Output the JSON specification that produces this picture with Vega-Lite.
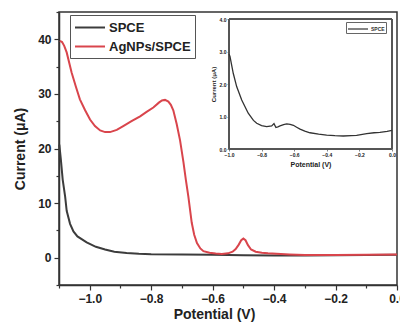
{
  "$schema": "https://vega.github.io/schema/vega-lite/v6.json",
  "width": 338,
  "height": 273,
  "autosize": {"type": "none"},
  "padding": {"left": 59, "top": 12, "right": 3, "bottom": 38},
  "config": {
    "font": "Liberation Sans",
    "view": {"stroke": "#333333", "strokeWidth": 1.5},
    "axis": {"grid": false, "domainColor": "#333333", "tickColor": "#333333", "labelColor": "#222222", "titleColor": "#222222"}
  },
  "datasets": {
    "main": [
      {"potential": -1.099, "current": 20.7, "electrode": "SPCE"},
      {"potential": -1.094, "current": 18.0, "electrode": "SPCE"},
      {"potential": -1.088, "current": 14.3, "electrode": "SPCE"},
      {"potential": -1.080, "current": 11.2, "electrode": "SPCE"},
      {"potential": -1.075, "current": 8.6, "electrode": "SPCE"},
      {"potential": -1.064, "current": 6.2, "electrode": "SPCE"},
      {"potential": -1.053, "current": 4.8, "electrode": "SPCE"},
      {"potential": -1.040, "current": 3.9, "electrode": "SPCE"},
      {"potential": -1.010, "current": 2.8, "electrode": "SPCE"},
      {"potential": -0.980, "current": 2.0, "electrode": "SPCE"},
      {"potential": -0.950, "current": 1.5, "electrode": "SPCE"},
      {"potential": -0.920, "current": 1.1, "electrode": "SPCE"},
      {"potential": -0.880, "current": 0.85, "electrode": "SPCE"},
      {"potential": -0.840, "current": 0.72, "electrode": "SPCE"},
      {"potential": -0.800, "current": 0.65, "electrode": "SPCE"},
      {"potential": -0.700, "current": 0.6, "electrode": "SPCE"},
      {"potential": -0.600, "current": 0.55, "electrode": "SPCE"},
      {"potential": -0.500, "current": 0.45, "electrode": "SPCE"},
      {"potential": -0.400, "current": 0.4, "electrode": "SPCE"},
      {"potential": -0.300, "current": 0.4, "electrode": "SPCE"},
      {"potential": -0.200, "current": 0.45, "electrode": "SPCE"},
      {"potential": -0.100, "current": 0.5, "electrode": "SPCE"},
      {"potential": 0.000, "current": 0.55, "electrode": "SPCE"},
      {"potential": -1.097, "current": 39.7, "electrode": "AgNPs/SPCE"},
      {"potential": -1.090, "current": 39.5, "electrode": "AgNPs/SPCE"},
      {"potential": -1.083, "current": 38.8, "electrode": "AgNPs/SPCE"},
      {"potential": -1.075, "current": 37.6, "electrode": "AgNPs/SPCE"},
      {"potential": -1.059, "current": 33.9, "electrode": "AgNPs/SPCE"},
      {"potential": -1.045, "current": 31.3, "electrode": "AgNPs/SPCE"},
      {"potential": -1.032, "current": 29.0, "electrode": "AgNPs/SPCE"},
      {"potential": -1.015, "current": 27.0, "electrode": "AgNPs/SPCE"},
      {"potential": -0.999, "current": 25.3, "electrode": "AgNPs/SPCE"},
      {"potential": -0.983, "current": 24.1, "electrode": "AgNPs/SPCE"},
      {"potential": -0.966, "current": 23.3, "electrode": "AgNPs/SPCE"},
      {"potential": -0.950, "current": 23.0, "electrode": "AgNPs/SPCE"},
      {"potential": -0.934, "current": 23.0, "electrode": "AgNPs/SPCE"},
      {"potential": -0.912, "current": 23.4, "electrode": "AgNPs/SPCE"},
      {"potential": -0.891, "current": 24.1, "electrode": "AgNPs/SPCE"},
      {"potential": -0.864, "current": 25.0, "electrode": "AgNPs/SPCE"},
      {"potential": -0.836, "current": 25.9, "electrode": "AgNPs/SPCE"},
      {"potential": -0.815, "current": 26.7, "electrode": "AgNPs/SPCE"},
      {"potential": -0.793, "current": 27.5, "electrode": "AgNPs/SPCE"},
      {"potential": -0.775, "current": 28.4, "electrode": "AgNPs/SPCE"},
      {"potential": -0.765, "current": 28.8, "electrode": "AgNPs/SPCE"},
      {"potential": -0.755, "current": 28.9, "electrode": "AgNPs/SPCE"},
      {"potential": -0.744, "current": 28.6, "electrode": "AgNPs/SPCE"},
      {"potential": -0.736, "current": 28.0, "electrode": "AgNPs/SPCE"},
      {"potential": -0.728, "current": 27.0, "electrode": "AgNPs/SPCE"},
      {"potential": -0.717, "current": 24.5, "electrode": "AgNPs/SPCE"},
      {"potential": -0.706, "current": 21.5, "electrode": "AgNPs/SPCE"},
      {"potential": -0.695, "current": 17.5, "electrode": "AgNPs/SPCE"},
      {"potential": -0.687, "current": 14.2, "electrode": "AgNPs/SPCE"},
      {"potential": -0.679, "current": 11.2, "electrode": "AgNPs/SPCE"},
      {"potential": -0.668, "current": 6.4, "electrode": "AgNPs/SPCE"},
      {"potential": -0.660, "current": 4.2, "electrode": "AgNPs/SPCE"},
      {"potential": -0.651, "current": 2.7, "electrode": "AgNPs/SPCE"},
      {"potential": -0.640, "current": 1.7, "electrode": "AgNPs/SPCE"},
      {"potential": -0.630, "current": 1.2, "electrode": "AgNPs/SPCE"},
      {"potential": -0.610, "current": 0.9, "electrode": "AgNPs/SPCE"},
      {"potential": -0.590, "current": 0.75, "electrode": "AgNPs/SPCE"},
      {"potential": -0.570, "current": 0.7, "electrode": "AgNPs/SPCE"},
      {"potential": -0.550, "current": 0.8, "electrode": "AgNPs/SPCE"},
      {"potential": -0.535, "current": 1.1, "electrode": "AgNPs/SPCE"},
      {"potential": -0.525, "current": 1.6, "electrode": "AgNPs/SPCE"},
      {"potential": -0.515, "current": 2.4, "electrode": "AgNPs/SPCE"},
      {"potential": -0.507, "current": 3.2, "electrode": "AgNPs/SPCE"},
      {"potential": -0.500, "current": 3.5, "electrode": "AgNPs/SPCE"},
      {"potential": -0.493, "current": 3.2, "electrode": "AgNPs/SPCE"},
      {"potential": -0.485, "current": 2.3, "electrode": "AgNPs/SPCE"},
      {"potential": -0.475, "current": 1.5, "electrode": "AgNPs/SPCE"},
      {"potential": -0.460, "current": 1.1, "electrode": "AgNPs/SPCE"},
      {"potential": -0.440, "current": 0.9, "electrode": "AgNPs/SPCE"},
      {"potential": -0.420, "current": 0.8, "electrode": "AgNPs/SPCE"},
      {"potential": -0.350, "current": 0.6, "electrode": "AgNPs/SPCE"},
      {"potential": -0.300, "current": 0.5, "electrode": "AgNPs/SPCE"},
      {"potential": -0.200, "current": 0.5, "electrode": "AgNPs/SPCE"},
      {"potential": -0.100, "current": 0.55, "electrode": "AgNPs/SPCE"},
      {"potential": 0.000, "current": 0.6, "electrode": "AgNPs/SPCE"}
    ],
    "inset": [
      {"potential": -1.000, "current": 2.92, "electrode": "SPCE"},
      {"potential": -0.994, "current": 2.85, "electrode": "SPCE"},
      {"potential": -0.974, "current": 2.33, "electrode": "SPCE"},
      {"potential": -0.953, "current": 1.92, "electrode": "SPCE"},
      {"potential": -0.922, "current": 1.51, "electrode": "SPCE"},
      {"potential": -0.882, "current": 1.10, "electrode": "SPCE"},
      {"potential": -0.850, "current": 0.88, "electrode": "SPCE"},
      {"potential": -0.830, "current": 0.79, "electrode": "SPCE"},
      {"potential": -0.800, "current": 0.72, "electrode": "SPCE"},
      {"potential": -0.769, "current": 0.69, "electrode": "SPCE"},
      {"potential": -0.738, "current": 0.71, "electrode": "SPCE"},
      {"potential": -0.724, "current": 0.78, "electrode": "SPCE"},
      {"potential": -0.712, "current": 0.66, "electrode": "SPCE"},
      {"potential": -0.700, "current": 0.68, "electrode": "SPCE"},
      {"potential": -0.687, "current": 0.71, "electrode": "SPCE"},
      {"potential": -0.665, "current": 0.75, "electrode": "SPCE"},
      {"potential": -0.646, "current": 0.77, "electrode": "SPCE"},
      {"potential": -0.625, "current": 0.76, "electrode": "SPCE"},
      {"potential": -0.605, "current": 0.73, "electrode": "SPCE"},
      {"potential": -0.585, "current": 0.67, "electrode": "SPCE"},
      {"potential": -0.564, "current": 0.61, "electrode": "SPCE"},
      {"potential": -0.535, "current": 0.55, "electrode": "SPCE"},
      {"potential": -0.503, "current": 0.50, "electrode": "SPCE"},
      {"potential": -0.450, "current": 0.46, "electrode": "SPCE"},
      {"potential": -0.401, "current": 0.43, "electrode": "SPCE"},
      {"potential": -0.350, "current": 0.41, "electrode": "SPCE"},
      {"potential": -0.299, "current": 0.40, "electrode": "SPCE"},
      {"potential": -0.250, "current": 0.41, "electrode": "SPCE"},
      {"potential": -0.217, "current": 0.42, "electrode": "SPCE"},
      {"potential": -0.155, "current": 0.47, "electrode": "SPCE"},
      {"potential": -0.110, "current": 0.50, "electrode": "SPCE"},
      {"potential": -0.074, "current": 0.51, "electrode": "SPCE"},
      {"potential": -0.030, "current": 0.54, "electrode": "SPCE"},
      {"potential": 0.000, "current": 0.57, "electrode": "SPCE"}
    ]
  },
  "layer": [
    {
      "data": {"name": "main"},
      "mark": {"type": "line", "strokeWidth": 2},
      "encoding": {
        "x": {
          "field": "potential", "type": "quantitative",
          "scale": {"domain": [-1.1, 0], "nice": false, "zero": false},
          "axis": {
            "title": "Potential (V)", "titleFontSize": 14, "titleFontWeight": "bold", "titlePadding": 3, "titleX": 155,
            "values": [-1.1, -1.0, -0.9, -0.8, -0.7, -0.6, -0.5, -0.4, -0.3, -0.2, -0.1, 0.0],
            "labelExpr": "round(datum.value*10) % 2 == 0 ? format(datum.value, '.1f') : ''",
            "labelFontSize": 12, "labelFontWeight": "bold", "labelPadding": 3,
            "tickSize": {"condition": {"test": "round(datum.value*10) % 2 == 0", "value": 5}, "value": 3},
            "domainWidth": 1.5, "tickWidth": 1.2, "labelFlush": false, "labelOverlap": false
          }
        },
        "y": {
          "field": "current", "type": "quantitative",
          "scale": {"domain": [-5, 45], "nice": false, "zero": false},
          "axis": {
            "title": "Current (\u03bcA)", "titleFontSize": 14, "titleFontWeight": "bold", "titlePadding": 10,
            "values": [-5, 0, 5, 10, 15, 20, 25, 30, 35, 40, 45],
            "labelExpr": "datum.value % 10 == 0 ? datum.label : ''",
            "labelFontSize": 12, "labelFontWeight": "bold", "labelPadding": 3,
            "tickSize": {"condition": {"test": "datum.value % 10 == 0", "value": 5}, "value": 3},
            "domainWidth": 1.5, "tickWidth": 1.2, "labelOverlap": false
          }
        },
        "color": {
          "field": "electrode", "type": "nominal",
          "scale": {"domain": ["SPCE", "AgNPs/SPCE"], "range": ["#3c3c3c", "#d9454c"]},
          "legend": {
            "title": null, "orient": "none", "legendX": 11, "legendY": 3,
            "symbolType": "M-1,0L3,0", "symbolSize": 225, "symbolStrokeWidth": 2,
            "labelFontSize": 13, "labelFontWeight": "bold", "labelColor": "#222222", "labelOffset": 18,
            "strokeColor": "#555555", "fillColor": "white", "padding": 4, "rowPadding": 3
          }
        }
      }
    },
    {
      "data": {"name": "inset"},
      "layer": [
        {
          "mark": {"type": "rect", "fillOpacity": 0, "stroke": "#555555", "strokeWidth": 0.8},
          "encoding": {
            "x": {"datum": -1.0, "type": "quantitative"},
            "x2": {"datum": 0.0},
            "y": {"datum": 0.0, "type": "quantitative"},
            "y2": {"datum": 4.0}
          }
        },
        {
          "mark": {"type": "line", "strokeWidth": 1.3},
          "encoding": {
            "x": {
              "field": "potential", "type": "quantitative",
              "scale": {"domain": [-1.0, 0], "nice": false, "zero": false, "range": [170, 333]},
              "axis": {
                "orient": "bottom", "offset": -136, "title": "Potential (V)", "titleFontSize": 7, "titleFontWeight": "bold", "titlePadding": 3,
                "values": [-1.0, -0.8, -0.6, -0.4, -0.2, 0.0], "format": ".1f",
                "labelFontSize": 5, "labelFontWeight": "bold", "labelPadding": 1, "tickSize": 2, "domainWidth": 0.8, "tickWidth": 0.6, "labelFlush": false, "labelOverlap": false
              }
            },
            "y": {
              "field": "current", "type": "quantitative",
              "scale": {"domain": [0, 4], "nice": false, "zero": false, "range": [137, 7]},
              "axis": {
                "orient": "left", "offset": -170, "title": "Current (\u03bcA)", "titleFontSize": 6, "titleFontWeight": "bold", "titlePadding": 3,
                "values": [0, 0.5, 1, 1.5, 2, 2.5, 3, 3.5, 4], "format": ".1f",
                "labelFontSize": 5, "labelFontWeight": "bold", "labelPadding": 1, "tickSize": 2, "domainWidth": 0.8, "tickWidth": 0.6, "labelOverlap": false
              }
            },
            "color": {
              "field": "electrode", "type": "nominal",
              "scale": {"domain": ["SPCE"], "range": ["#333333"]},
              "legend": {
                "title": null, "orient": "none", "legendX": 287, "legendY": 10,
                "symbolType": "M-1,0L3,0", "symbolSize": 100, "symbolStrokeWidth": 1.2,
                "labelFontSize": 5, "labelFontWeight": "bold", "labelColor": "#333333",
                "strokeColor": "#666666", "fillColor": "white", "padding": 1, "labelOffset": 12
              }
            }
          }
        }
      ]
    }
  ],
  "resolve": {
    "scale": {"x": "independent", "y": "independent", "color": "independent"},
    "axis": {"x": "independent", "y": "independent"},
    "legend": {"color": "independent"}
  }
}
